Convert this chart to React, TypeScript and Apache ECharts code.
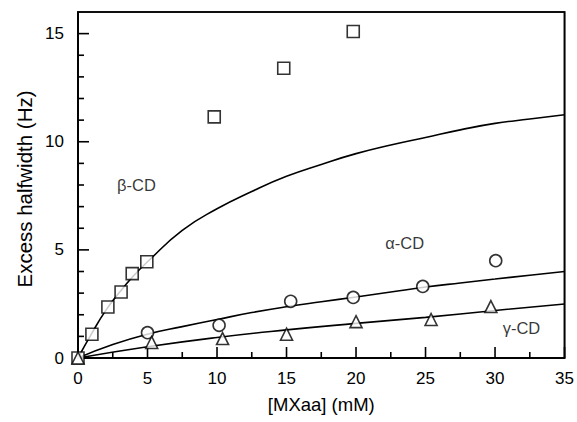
import React, { useEffect, useRef } from "react";
import * as echarts from "echarts";

// Measured points (x = [MXaa] mM, y = excess halfwidth Hz)
const betaPoints: number[][] = [
  [0, 0], [1.0, 1.1], [2.15, 2.36], [3.1, 3.05], [3.9, 3.9], [4.95, 4.45],
  [9.8, 11.15], [14.8, 13.4], [19.8, 15.1],
];
const alphaPoints: number[][] = [
  [5.0, 1.17], [10.15, 1.51], [15.3, 2.62], [19.8, 2.8], [24.8, 3.31], [30.05, 4.5],
];
const gammaPoints: number[][] = [
  [0, 0], [5.3, 0.72], [10.4, 0.9], [15.0, 1.1], [20.0, 1.68], [25.4, 1.78], [29.7, 2.38],
];

// Fitted curves
const betaCurveX = [0, 1, 2, 3, 4, 5, 7.5, 10, 12.5, 15, 17.5, 20, 22.5, 25, 27.5, 30, 32.5, 35];
const betaCurveY = [0, 1.15, 2.2, 3.05, 3.8, 4.45, 5.9, 6.9, 7.7, 8.4, 8.95, 9.45, 9.85, 10.2, 10.55, 10.85, 11.05, 11.25];
const alphaCurveX = [0, 2.5, 5, 7.5, 10, 12.5, 15, 17.5, 20, 22.5, 25, 27.5, 30, 32.5, 35];
const alphaCurveY = [0, 0.62, 1.1, 1.45, 1.78, 2.1, 2.37, 2.6, 2.82, 3.05, 3.28, 3.47, 3.65, 3.83, 4.0];
const gammaCurveX = [0, 5, 10, 15, 20, 25, 30, 35];
const gammaCurveY = [0, 0.52, 0.95, 1.3, 1.6, 1.88, 2.2, 2.5];

// Tick values
const xMajorTicks = [0, 5, 10, 15, 20, 25, 30, 35];
const xMinorTicks = [2.5, 7.5, 12.5, 17.5, 22.5, 27.5, 32.5];
const yMajorTicks = [0, 5, 10, 15];
const yMinorTicks = [1, 2, 3, 4, 6, 7, 8, 9, 11, 12, 13, 14];

const curveLabels = [
  { text: "β-CD", x: 4.2, y: 8.0 },
  { text: "α-CD", x: 23.5, y: 5.3 },
  { text: "γ-CD", x: 31.9, y: 1.4 },
];

const X_TITLE = "[MXaa] (mM)";
const Y_TITLE = "Excess halfwidth (Hz)";

const FONT = "Liberation Sans, Arial, Helvetica, sans-serif";

const zip = (xs: number[], ys: number[]) => xs.map((x, i) => [x, ys[i]]);

// kind 0 = x tick, 1 = y tick, 2 = frame; third value: 1 major, 0 minor
const tickData: number[][] = [
  ...xMajorTicks.map((v) => [0, v, 1]),
  ...xMinorTicks.map((v) => [0, v, 0]),
  ...yMajorTicks.map((v) => [1, v, 1]),
  ...yMinorTicks.map((v) => [1, v, 0]),
  [2, 0, 0],
];

export default function App() {
  const ref = useRef<HTMLDivElement>(null);
  useEffect(() => {
    if (!ref.current) return;
    const chart = echarts.init(ref.current, null, { renderer: "svg" });
    const lineStyle = { color: "#000", width: 1.6 };
    const markerStyle = { color: "#fff", borderColor: "#000", borderWidth: 1.6 };
    const X_MIN = 0, X_MAX = 35, Y_MIN = 0, Y_MAX = 16;
    chart.setOption({
      animation: false,
      grid: {
        left: 78, right: 12, top: 12, bottom: 64,
        show: true, borderColor: "#000", borderWidth: 1.6, backgroundColor: "transparent",
      },
      graphic: [
        {
          type: "text", x: 24, y: 189, rotation: Math.PI / 2,
          style: {
            text: Y_TITLE, fontFamily: FONT, fontSize: 20.5, fill: "#000",
            textAlign: "center", textVerticalAlign: "middle",
          },
        },
      ],
      xAxis: {
        type: "value", min: X_MIN, max: X_MAX, interval: 5,
        name: X_TITLE, nameLocation: "middle", nameGap: 37,
        nameTextStyle: { fontFamily: FONT, fontSize: 18.5, color: "#000" },
        axisLine: { show: true, lineStyle: { color: "#000", width: 1.6 } },
        axisTick: { show: false },
        minorTick: { show: false },
        axisLabel: { fontFamily: FONT, fontSize: 17, color: "#000", margin: 12 },
        splitLine: { show: false },
      },
      yAxis: {
        type: "value", min: Y_MIN, max: Y_MAX, interval: 5,
        axisLine: { show: true, lineStyle: { color: "#000", width: 1.6 } },
        axisTick: { show: false },
        minorTick: { show: false },
        axisLabel: {
          fontFamily: FONT, fontSize: 17, color: "#000", margin: 14,
          formatter: (v: number) => (v > 15 ? "" : String(v)),
        },
        splitLine: { show: false },
      },
      series: [
        {
          type: "custom",
          clip: false,
          silent: true,
          z: 1,
          data: tickData,
          renderItem: (_params: any, api: any) => {
            const kind = api.value(0);
            const v = api.value(1);
            const major = api.value(2) === 1;
            const len = major ? 11 : 6;
            const style = { stroke: "#000", lineWidth: 1.6, fill: "transparent" };
            if (kind === 0) {
              const p = api.coord([v, Y_MIN]);
              return { type: "line", shape: { x1: p[0], y1: p[1], x2: p[0], y2: p[1] - len }, style };
            }
            if (kind === 1) {
              const p = api.coord([X_MIN, v]);
              return { type: "line", shape: { x1: p[0], y1: p[1], x2: p[0] + len, y2: p[1] }, style };
            }
            const a = api.coord([X_MIN, Y_MIN]);
            const b = api.coord([X_MIN, Y_MAX]);
            const c = api.coord([X_MAX, Y_MAX]);
            const d = api.coord([X_MAX, Y_MIN]);
            return { type: "polygon", shape: { points: [a, b, c, d] }, style };
          },
        },
        { type: "line", data: zip(betaCurveX, betaCurveY), smooth: true, showSymbol: false, lineStyle, z: 2 },
        { type: "line", data: zip(alphaCurveX, alphaCurveY), smooth: true, showSymbol: false, lineStyle, z: 2 },
        { type: "line", data: zip(gammaCurveX, gammaCurveY), smooth: true, showSymbol: false, lineStyle, z: 2 },
        { type: "scatter", data: betaPoints, symbol: "rect", symbolSize: 12, itemStyle: markerStyle, z: 3 },
        { type: "scatter", data: alphaPoints, symbol: "circle", symbolSize: 12, itemStyle: markerStyle, z: 3 },
        { type: "scatter", data: gammaPoints, symbol: "triangle", symbolSize: 12, itemStyle: markerStyle, z: 4 },
        {
          type: "scatter", symbolSize: 0,
          data: curveLabels.map((l) => ({ value: [l.x, l.y], name: l.text })),
          label: {
            show: true, position: "inside", formatter: (p: any) => p.name,
            fontFamily: FONT, fontSize: 16.5, color: "#000",
          },
          z: 5,
        },
      ],
    });
    return () => chart.dispose();
  }, []);
  return <div ref={ref} style={{ width: 577, height: 422, position: "absolute", left: 0, top: 0 }} />;
}
